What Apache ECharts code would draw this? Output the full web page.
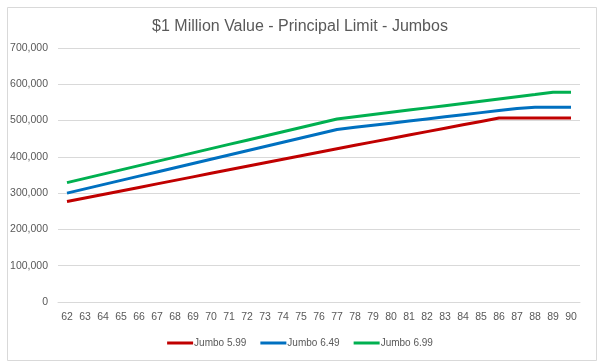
<!DOCTYPE html>
<html>
<head>
<meta charset="utf-8">
<script src="https://cdn.jsdelivr.net/npm/echarts@6/dist/echarts.min.js"></script>
<style>html,body{margin:0;padding:0;background:#fff;}#c{width:600px;height:363px;}</style>
</head>
<body>
<div id="c"></div>
<script>
var categories = ['62','63','64','65','66','67','68','69','70','71','72','73','74','75','76','77','78','79','80','81','82','83','84','85','86','87','88','89','90'];
var jumbo599 = [277000,286700,296400,306100,315800,325500,335200,344900,354600,364300,374000,383700,393400,403100,412800,422500,431900,441300,450700,460100,469500,478900,488300,497700,507000,507000,507000,507000,507000];
var jumbo649 = [300000,311700,323400,335100,346800,358500,370200,381900,393600,405300,417000,428700,440400,452100,463800,475500,481300,487100,492900,498700,504500,510300,516100,521900,527700,533500,537000,537000,537000];
var jumbo699 = [329000,340700,352400,364100,375800,387500,399200,410900,422600,434300,446000,457700,469400,481100,492800,504500,510600,516700,522800,528900,535000,541100,547200,553300,559400,565500,571600,578000,578000];
var yTicks = { min: 0, max: 700000, interval: 100000 };

var font = 'Liberation Sans';
var chart = echarts.init(document.getElementById('c'), null, {renderer: 'canvas'});
function s(name, data, color) {
  return { name: name, type: 'line', data: data, symbol: 'none', smooth: false,
    lineStyle: { color: color, width: 3 }, itemStyle: { color: color } };
}
chart.setOption({
  animation: false,
  backgroundColor: '#fff',
  graphic: [{ type: 'rect', left: 5, top: 5, shape: { width: 589, height: 353 },
    style: { fill: 'none', stroke: '#D9D9D9', lineWidth: 1 }, silent: true }],
  title: { text: '$1 Million Value - Principal Limit - Jumbos', left: 'center', top: 14,
    textStyle: { fontFamily: font, fontSize: 16, fontWeight: 'normal', color: '#595959' } },
  legend: { bottom: 15, left: 'center', padding: 0, itemWidth: 26, itemHeight: 3, itemGap: 14,
    icon: 'rect',
    textStyle: { fontFamily: font, fontSize: 10, color: '#595959', padding: [0,0,0,-4] },
    data: ['Jumbo 5.99', 'Jumbo 6.49', 'Jumbo 6.99'] },
  grid: { left: 58, right: 20, top: 48, bottom: 61, containLabel: false },
  xAxis: { type: 'category', data: categories, boundaryGap: true,
    axisLine: { lineStyle: { color: '#D9D9D9', width: 1 } }, axisTick: { show: false },
    axisLabel: { fontFamily: font, fontSize: 10.5, color: '#595959', margin: 10, interval: 0 } },
  yAxis: { type: 'value', min: yTicks.min, max: yTicks.max, interval: yTicks.interval,
    axisLine: { show: false }, axisTick: { show: false },
    splitLine: { lineStyle: { color: '#D9D9D9', width: 1 } },
    axisLabel: { fontFamily: font, fontSize: 10.5, color: '#595959', margin: 10,
      formatter: function (v) { return v.toLocaleString('en-US'); } } },
  series: [ s('Jumbo 5.99', jumbo599, '#C00000'), s('Jumbo 6.49', jumbo649, '#0070C0'), s('Jumbo 6.99', jumbo699, '#00B050') ]
});
</script>
</body>
</html>
